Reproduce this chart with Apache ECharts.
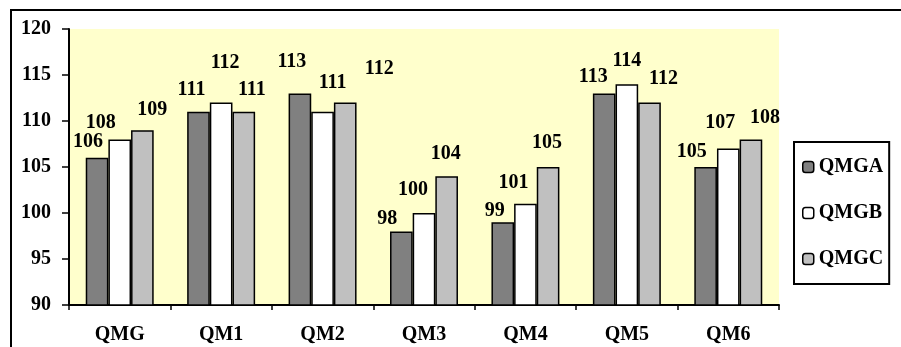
<!DOCTYPE html>
<html>
<head>
<meta charset="utf-8">
<script src="https://cdn.jsdelivr.net/npm/echarts@6/dist/echarts.min.js"></script>
<style>
  html, body { margin: 0; padding: 0; background: #fff; }
  #main { width: 901px; height: 347px; }
</style>
</head>
<body>
<div id="main"></div>
<script>
var categories = ['QMG', 'QM1', 'QM2', 'QM3', 'QM4', 'QM5', 'QM6'];
var seriesNames = ['QMGA', 'QMGB', 'QMGC'];
var valuesA = [106, 111, 113, 98, 99, 113, 105];
var valuesB = [108, 112, 111, 100, 101, 114, 107];
var valuesC = [109, 111, 112, 104, 105, 112, 108];
var yTicks = [90, 95, 100, 105, 110, 115, 120];

// label nudges, the original labels were hand placed
var shiftA = [[-9, -7], [-7, -13], [-8, -23], [-14, -4], [-8, -2], [-11, -8], [-14, -6]];
var shiftB = [[-19, -8], [4, -31], [10, -20], [-11, -14], [-12, -12], [0, -14], [-8, -17]];
var shiftC = [[10, -11], [8, -13], [34, -25], [-1, -13], [-1, -15], [14, -15], [14, -13]];

var font = 'Liberation Serif';
var colors = ['#808080', '#ffffff', '#c0c0c0'];

function makeData(vals, shifts) {
    return vals.map(function (v, i) {
        return { value: v, label: { offset: shifts[i] } };
    });
}

function makeSeries(idx, vals, shifts) {
    return {
        name: seriesNames[idx],
        type: 'bar',
        barGap: '0%',
        barCategoryGap: '33%',
        itemStyle: { color: colors[idx], borderColor: '#000', borderWidth: 1.5 },
        label: {
            show: true,
            position: 'top',
            distance: 0,
            lineHeight: 18,
            fontFamily: font,
            fontWeight: 'bold',
            fontSize: 20,
            color: '#000'
        },
        data: makeData(vals, shifts)
    };
}

var myChart = echarts.init(document.getElementById('main'));
var option = {
    animation: false,
    backgroundColor: '#fff',
    grid: {
        left: 69, right: 122, top: 29, bottom: 42,
        show: true, backgroundColor: '#ffffcc', borderWidth: 0
    },
    graphic: [{
        type: 'rect',
        shape: { x: 11, y: 10, width: 960, height: 400 },
        style: { fill: 'none', stroke: '#000', lineWidth: 2 },
        silent: true
    }],
    legend: {
        data: seriesNames,
        orient: 'vertical',
        left: 794,
        top: 142,
        padding: [15, 6, 15, 8],
        itemGap: 26,
        itemWidth: 11,
        itemHeight: 11,
        borderColor: '#000',
        borderWidth: 2,
        itemStyle: { borderColor: '#000', borderWidth: 1.5 },
        textStyle: { fontFamily: font, fontWeight: 'bold', fontSize: 20, lineHeight: 20, color: '#000' }
    },
    xAxis: {
        type: 'category',
        data: categories,
        axisLine: { lineStyle: { color: '#000', width: 2 } },
        axisTick: { show: true, length: 5, lineStyle: { color: '#000', width: 1.5 } },
        axisLabel: { margin: 20, fontFamily: font, fontWeight: 'bold', fontSize: 20, color: '#000' }
    },
    yAxis: {
        type: 'value',
        min: yTicks[0],
        max: yTicks[yTicks.length - 1],
        interval: 5,
        splitLine: { show: false },
        axisLine: { show: true, lineStyle: { color: '#000', width: 2 } },
        axisTick: { show: true, length: 7, lineStyle: { color: '#000', width: 1.5 } },
        axisLabel: { margin: 18, fontFamily: font, fontWeight: 'bold', fontSize: 20, color: '#000' }
    },
    series: [
        makeSeries(0, valuesA, shiftA),
        makeSeries(1, valuesB, shiftB),
        makeSeries(2, valuesC, shiftC)
    ]
};
myChart.setOption(option);
</script>
</body>
</html>
